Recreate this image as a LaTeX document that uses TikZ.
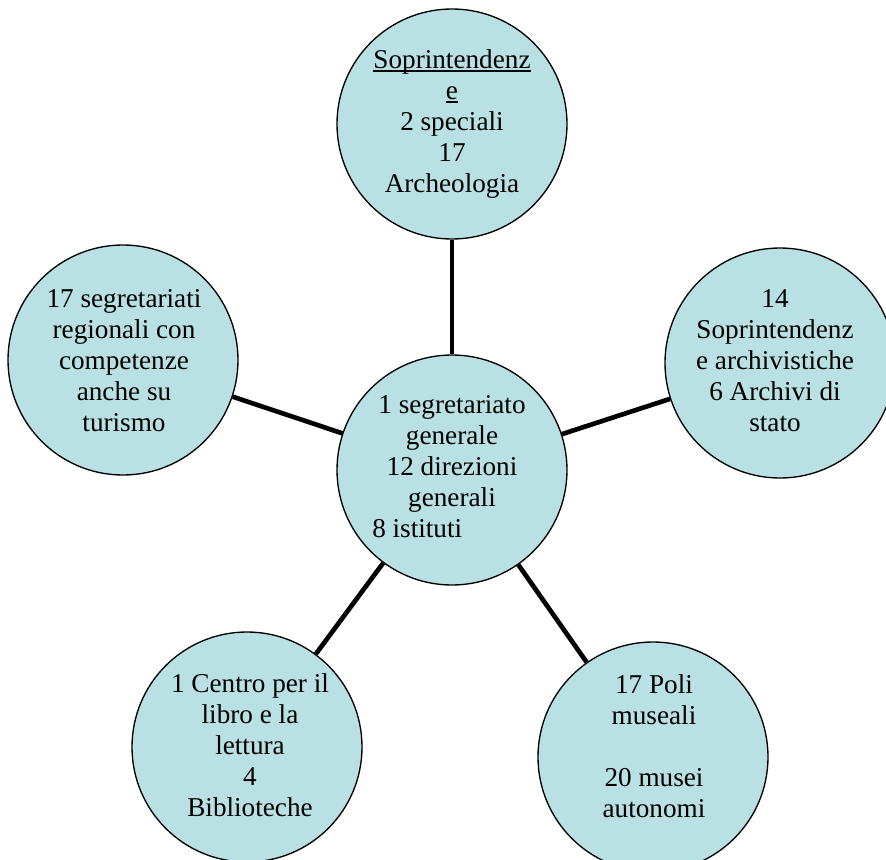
\documentclass[tikz,border=0pt]{standalone}
\usepackage{fontspec}
\setmainfont{Liberation Serif}
\definecolor{bubblecol}{RGB}{185,224,227}
\newcommand{\myul}[1]{\setbox0\hbox{#1}\rlap{\rule[-2.6pt]{\wd0}{1.1pt}}\box0}
\begin{document}
\begin{tikzpicture}[x=0.75pt,y=-0.75pt,
  bubble/.style={circle,draw=black,line width=1pt,fill=bubblecol,minimum size=172.5pt,inner sep=0pt},
  link/.style={line width=3.5pt},
  txt/.style={font=\fontsize{20.4}{23.25}\selectfont,align=center,inner sep=0pt,anchor=north}]
\useasboundingbox (0,0) rectangle (886,860);
\clip (0,0) rectangle (886,860);
% circles
\node[bubble] (c)  at (452,470) {};
\node[bubble] (t)  at (452,124) {};
\node[bubble] (l)  at (123,360) {};
\node[bubble] (r)  at (780,363) {};
\node[bubble] (bl) at (247,747) {};
\node[bubble] (br) at (653,757) {};
% connectors
\draw[link] (c) -- (t);
\draw[link] (c) -- (l);
\draw[link] (c) -- (r);
\draw[link] (c) -- (bl);
\draw[link] (c) -- (br);
% texts
\node[txt] (tt) at (452,46.3) {\strut\myul{Soprintendenz}\\\myul{e}\\2 speciali\\17\\Archeologia};
\node[txt] (ct) at (452,391.3) {\strut 1 segretariato\\generale\\12 direzioni\\generali};
\node[txt,anchor=base west] (ct2) at (372,537) {8 istituti};
\node[txt] (lt) at (124,285.3) {\strut 17 segretariati\\regionali con\\competenze\\anche su\\turismo};
\node[txt] (rt) at (775,285.3) {\strut 14\\Soprintendenz\\e archivistiche\\6 Archivi di\\stato};
\node[txt] (blt) at (250,670.3) {\strut 1 Centro per il\\libro e la\\lettura\\4\\Biblioteche};
\node[txt] (brt) at (654,671.3) {\strut 17 Poli\\museali\\\strut\\20 musei\\autonomi};
\end{tikzpicture}
\end{document}
